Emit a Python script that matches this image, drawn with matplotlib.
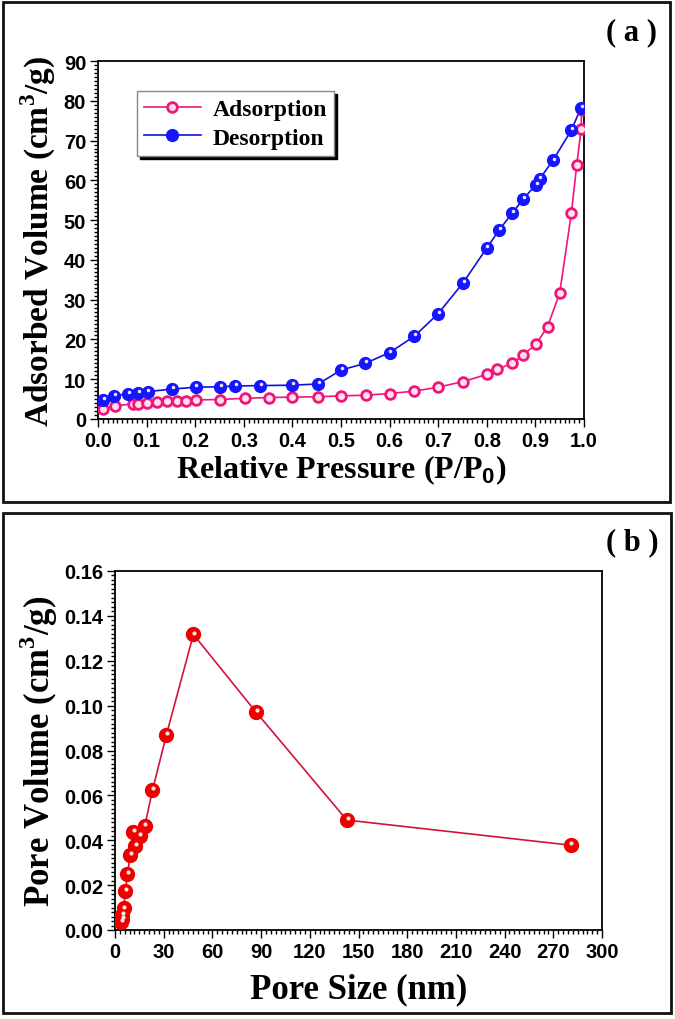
#!/usr/bin/env python3
# -*- coding: utf-8 -*-
import matplotlib
matplotlib.use('Agg')
import matplotlib.pyplot as plt
from matplotlib.patches import Rectangle
from matplotlib.ticker import MultipleLocator
from matplotlib.transforms import ScaledTranslation

# (a) N2 isotherm
ads_p = [0.011, 0.035, 0.071, 0.082, 0.10, 0.121, 0.141, 0.162, 0.181, 0.201,
         0.252, 0.302, 0.352, 0.40, 0.453, 0.50, 0.552, 0.60, 0.651, 0.70,
         0.751, 0.80, 0.822, 0.852, 0.875, 0.901, 0.925, 0.95, 0.974, 0.985,
         0.994, 0.995]
ads_v = [2.5, 3.3, 3.8, 3.85, 4.0, 4.3, 4.4, 4.5, 4.6, 4.8,
         4.9, 5.2, 5.4, 5.5, 5.6, 5.8, 6.0, 6.4, 7.0, 8.0,
         9.4, 11.2, 12.5, 14.0, 16.1, 18.8, 23.2, 31.7, 51.7, 63.8,
         72.8, 77.8]
des_p = [0.011, 0.033, 0.062, 0.082, 0.102, 0.152, 0.201, 0.252, 0.282, 0.333,
         0.40, 0.453, 0.50, 0.55, 0.60, 0.651, 0.70, 0.751, 0.80, 0.826,
         0.852, 0.875, 0.901, 0.909, 0.936, 0.974, 0.994]
des_v = [4.8, 5.9, 6.3, 6.6, 6.9, 7.5, 8.0, 8.1, 8.3, 8.4,
         8.5, 8.8, 12.3, 14.0, 16.7, 20.8, 26.5, 34.2, 43.0, 47.6,
         51.7, 55.3, 58.9, 60.4, 65.0, 72.6, 78.3]
a_xticks = [0.0, 0.1, 0.2, 0.3, 0.4, 0.5, 0.6, 0.7, 0.8, 0.9, 1.0]
a_yticks = [0, 10, 20, 30, 40, 50, 60, 70, 80, 90]

# (b) pore size distribution
pore_size = [4.0, 4.2, 4.5, 5.3, 6.4, 7.7, 9.3, 11.2, 12.5, 15.1, 18.3,
             23.1, 31.6, 48.3, 86.8, 142.8, 280.6]
pore_vol = [0.0037, 0.0065, 0.0049, 0.0096, 0.0175, 0.0248, 0.0334, 0.0438,
            0.0374, 0.0420, 0.0463, 0.0623, 0.0868, 0.1317, 0.0972, 0.0490,
            0.0378]
b_xticks = [0, 30, 60, 90, 120, 150, 180, 210, 240, 270, 300]
b_yticks = [0.00, 0.02, 0.04, 0.06, 0.08, 0.10, 0.12, 0.14, 0.16]

SERIF = 'Liberation Serif'
SANS = 'Liberation Sans'

plt.rcParams['mathtext.fontset'] = 'custom'
plt.rcParams['mathtext.rm'] = SERIF
plt.rcParams['mathtext.bf'] = SERIF + ':bold'
plt.rcParams['mathtext.sf'] = SANS + ':bold'


def style_axes(ax, xticks, yticks, xfmt, yfmt):
    ax.set_xticks(xticks)
    ax.set_yticks(yticks)
    ax.set_xticklabels([xfmt.format(t) for t in xticks])
    ax.set_yticklabels([yfmt.format(t) for t in yticks])
    ax.set_xlim(xticks[0], xticks[-1])
    ax.set_ylim(yticks[0], yticks[-1])
    ax.xaxis.set_minor_locator(MultipleLocator((xticks[1] - xticks[0]) / 10))
    ax.yaxis.set_minor_locator(MultipleLocator((yticks[1] - yticks[0]) / 10))
    for s in ax.spines.values():
        s.set_linewidth(1.3)
    ax.tick_params(which='both', direction='out', top=False, right=False,
                   width=1.0, labelsize=14.5)
    ax.tick_params(which='major', length=5.5, pad=3)
    ax.tick_params(which='minor', length=3)
    for lab in ax.get_xticklabels() + ax.get_yticklabels():
        lab.set_fontfamily(SANS)
        lab.set_fontweight('bold')


def sphere(ax, fig, x, y, color, ms):
    # shaded ball marker: solid disc plus a small white highlight
    ax.plot(x, y, 'o', color=color, mec=color, ms=ms, zorder=3)
    off = ScaledTranslation(0.5 / 72, 1.4 / 72, fig.dpi_scale_trans)
    ax.plot(x, y, 'o', color='white', mec='none', ms=ms * 0.3, alpha=0.9,
            transform=ax.transData + off, zorder=4)


def panel_frame(fig, x0, y0, x1, y1):
    W, H = fig.get_size_inches() * fig.dpi
    r = Rectangle((x0 / W, 1 - y1 / H), (x1 - x0) / W, (y1 - y0) / H,
                  transform=fig.transFigure, fill=False, lw=2, ec='#111111')
    fig.patches.append(r)


def main():
    fig = plt.figure(figsize=(6.75, 10.2), dpi=100)

    # ---- (a)
    ax = fig.add_axes([98 / 675, 1 - 420 / 1020, 486 / 675, 358 / 1020])
    pink = '#f0157a'
    blue = '#1010e0'
    ax.plot(ads_p, ads_v, '-', color=pink, lw=1.2, zorder=2)
    ax.plot(ads_p, ads_v, 'o', mfc='#ffe0ee', mec=pink, mew=2.0, ms=7, zorder=3)
    ax.plot(des_p, des_v, '-', color=blue, lw=1.2, zorder=2)
    sphere(ax, fig, des_p, des_v, '#1515ff', 8.5)

    style_axes(ax, a_xticks, a_yticks, '{:.1f}', '{:d}')
    ax.set_xlabel(r'Relative Pressure (P/P$_{\mathsf{0}}$)', family=SERIF,
                  fontweight='bold', fontsize=23, labelpad=2)
    ax.set_ylabel(r'Adsorbed Volume (cm$^{\mathbf{3}}$/g)', family=SERIF,
                  fontweight='bold', fontsize=24, labelpad=4)

    # legend with hard shadow
    h1, = ax.plot([], [], '-o', color=pink, mfc='#ffe0ee', mec=pink, mew=2.0, ms=7, lw=1.2)
    h2, = ax.plot([], [], '-o', color=blue, mfc='#1515ff', mec='#1515ff', ms=8.5, lw=1.2)
    leg = ax.legend([h1, h2], ['Adsorption', 'Desorption'],
                    loc='upper left', bbox_to_anchor=(0.08, 0.915),
                    prop={'family': SERIF, 'weight': 'bold', 'size': 17},
                    fancybox=False, shadow={'color': 'black', 'alpha': 1},
                    framealpha=1, edgecolor='#888888', handlelength=2.4,
                    handletextpad=0.5, borderpad=0.3, labelspacing=0.3,
                    borderaxespad=0)
    leg.get_frame().set_linewidth(1)

    fig.text(632 / 675, 1 - 33 / 1020, '( a )', family=SERIF, fontweight='bold',
             fontsize=22, ha='center', va='center')

    # ---- (b)
    bx = fig.add_axes([115 / 675, 1 - 931 / 1020, 487 / 675, 359 / 1020])
    bx.plot(pore_size, pore_vol, '-', color='#d0143c', lw=1.2, zorder=2)
    sphere(bx, fig, pore_size, pore_vol, '#ee0000', 10)
    style_axes(bx, b_xticks, b_yticks, '{:d}', '{:.2f}')
    bx.set_xlabel('Pore Size (nm)', family=SERIF, fontweight='bold',
                  fontsize=25, labelpad=8)
    bx.set_ylabel(r'Pore Volume (cm$^{\mathbf{3}}$/g)', family=SERIF,
                  fontweight='bold', fontsize=25, labelpad=3)

    fig.text(632 / 675, 1 - 543 / 1020, '( b )', family=SERIF, fontweight='bold',
             fontsize=22, ha='center', va='center')

    panel_frame(fig, 3, 3, 670, 503)
    panel_frame(fig, 3, 514, 671, 1014)

    fig.savefig('out.png', dpi=100)


if __name__ == '__main__':
    main()
